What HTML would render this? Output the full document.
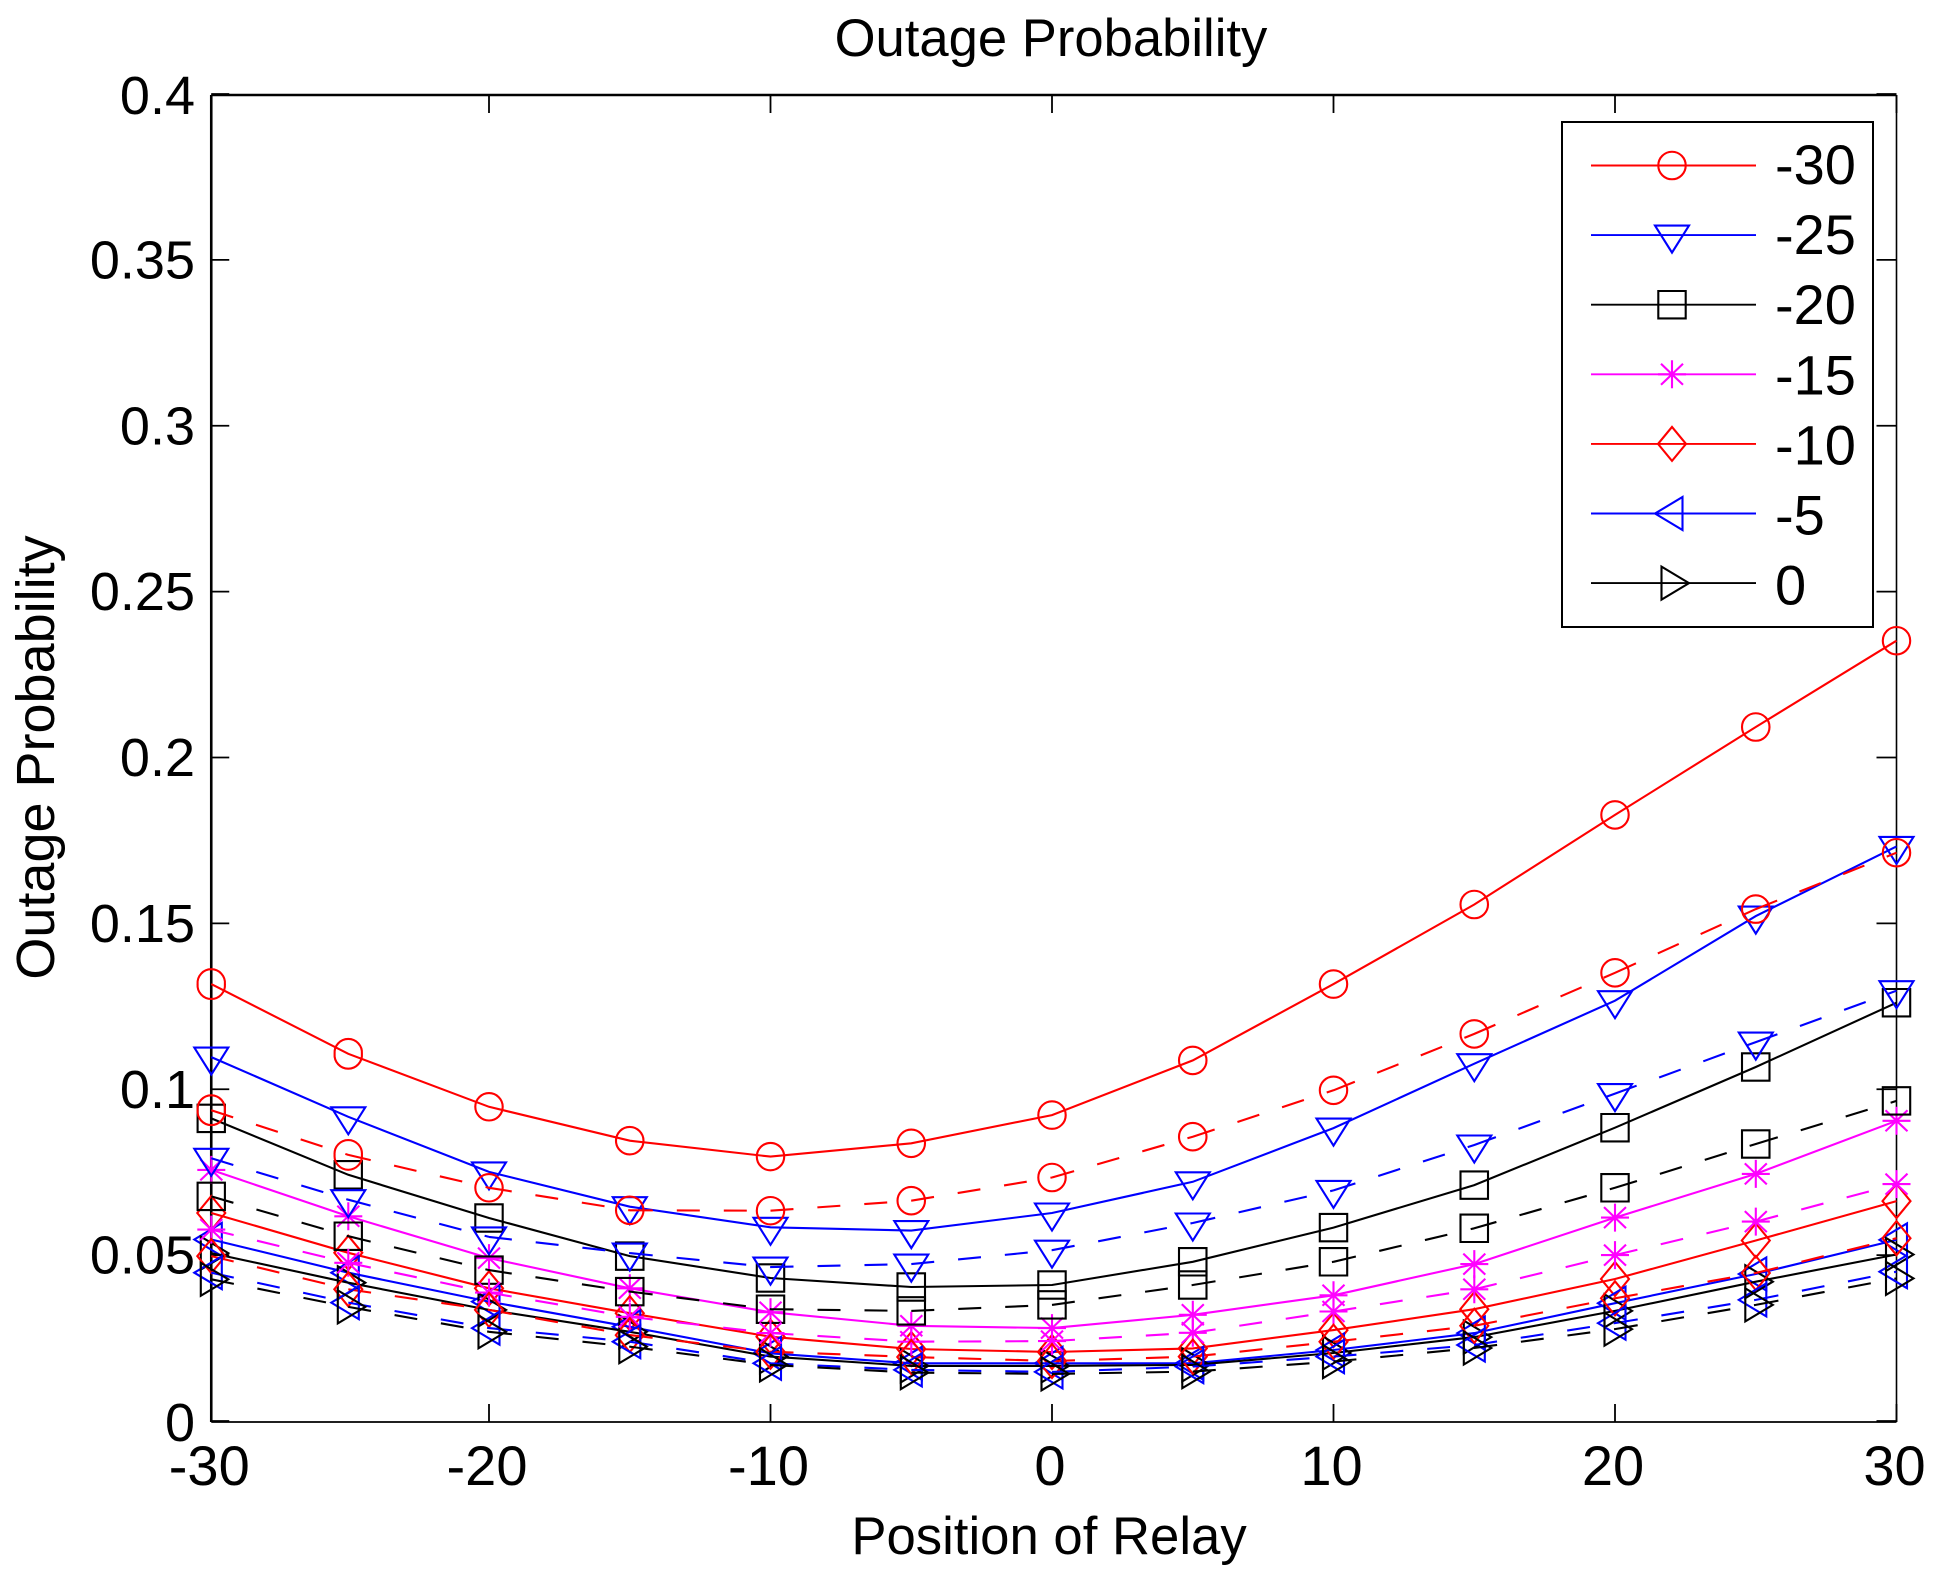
<!DOCTYPE html>
<html lang="en">
<head>
<meta charset="utf-8">
<title>Outage Probability</title>
<style>
html,body{margin:0;padding:0;background:#fff;}
svg{display:block;font-family:"Liberation Sans",Arial,sans-serif;fill:#000;}
</style>
</head>
<body>
<svg id="chart" xmlns="http://www.w3.org/2000/svg" width="1941" height="1574" viewBox="0 0 1941 1574">
<rect x="0" y="0" width="1941" height="1574" fill="#fff"/>
<text x="1051" y="56" font-size="52.6" text-anchor="middle">Outage Probability</text>
<text x="1049" y="1554" font-size="52.7" text-anchor="middle">Position of Relay</text>
<text transform="translate(54,757.5) rotate(-90)" font-size="54" text-anchor="middle">Outage Probability</text>
<g id="axes"></g>
<g id="plot"></g>
<g id="legend"></g>
</svg>
<script>
const positions = [-30,-25,-20,-15,-10,-5,0,5,10,15,20,25,30];
const xTicks = [-30,-20,-10,0,10,20,30];
const yTicks = [0,0.05,0.1,0.15,0.2,0.25,0.3,0.35,0.4];
const yTickLabels = ['0','0.05','0.1','0.15','0.2','0.25','0.3','0.35','0.4'];
const legendLabels = ['-30','-25','-20','-15','-10','-5','0'];

const solidMinus30 = [0.132,0.111,0.095,0.0848,0.080,0.084,0.0925,0.109,0.132,0.156,0.183,0.2095,0.2355];
const solidMinus25 = [0.110,0.092,0.0754,0.0649,0.0587,0.0577,0.063,0.0724,0.0886,0.108,0.127,0.1525,0.1735];
const solidMinus20 = [0.0915,0.0745,0.0615,0.050,0.0434,0.0407,0.0413,0.0483,0.0586,0.0714,0.0887,0.107,0.1264];
const solidMinus15 = [0.076,0.062,0.0494,0.0403,0.0331,0.029,0.0283,0.0323,0.0382,0.0476,0.0616,0.0748,0.0908];
const solidMinus10 = [0.063,0.051,0.0403,0.0328,0.0257,0.022,0.0211,0.0222,0.0277,0.034,0.0431,0.0547,0.0666];
const solidMinus5 = [0.055,0.045,0.0363,0.0287,0.0207,0.0177,0.0177,0.0177,0.0217,0.0268,0.0358,0.0446,0.0549];
const solidZero = [0.0509,0.042,0.0338,0.0272,0.0197,0.0169,0.0169,0.0172,0.0208,0.0256,0.0335,0.0423,0.0505];

const dashedMinus30 = [0.094,0.0805,0.0706,0.0638,0.0637,0.0667,0.0737,0.086,0.100,0.117,0.1354,0.1546,0.1716];
const dashedMinus25 = [0.0795,0.067,0.0558,0.0509,0.0467,0.0476,0.0518,0.060,0.0698,0.0835,0.099,0.1145,0.130];
const dashedMinus20 = [0.068,0.056,0.0458,0.0393,0.034,0.0335,0.0353,0.0413,0.0483,0.0584,0.0706,0.0838,0.0968];
const dashedMinus15 = [0.058,0.048,0.039,0.0317,0.0268,0.0242,0.0244,0.0269,0.0333,0.040,0.0503,0.0604,0.0717];
const dashedMinus10 = [0.050,0.040,0.0338,0.0262,0.0212,0.0196,0.0184,0.0197,0.0242,0.029,0.0373,0.0449,0.0554];
const dashedMinus5 = [0.045,0.036,0.0283,0.0242,0.0177,0.0157,0.0151,0.0167,0.0197,0.0232,0.0298,0.0368,0.0453];
const dashedZero = [0.043,0.0347,0.0272,0.0227,0.0172,0.0149,0.0145,0.0152,0.0182,0.0223,0.028,0.0353,0.0433];

const NS = 'http://www.w3.org/2000/svg';
const RED = '#ff0000', BLUE = '#0000ff', BLACK = '#000000', MAGENTA = '#ff00ff';
const seriesStyles = [
  {key:'minus-30', color:RED, marker:'circle'},
  {key:'minus-25', color:BLUE, marker:'down'},
  {key:'minus-20', color:BLACK, marker:'square'},
  {key:'minus-15', color:MAGENTA, marker:'star'},
  {key:'minus-10', color:RED, marker:'diamond'},
  {key:'minus-5', color:BLUE, marker:'left'},
  {key:'zero', color:BLACK, marker:'right'}
];
const solidSeries = [solidMinus30,solidMinus25,solidMinus20,solidMinus15,solidMinus10,solidMinus5,solidZero];
const dashedSeries = [dashedMinus30,dashedMinus25,dashedMinus20,dashedMinus15,dashedMinus10,dashedMinus5,dashedZero];

/* Axis functions. The leftmost interval is very slightly compressed in the source image. */
function xScale(v){
  return v < -25 ? 348.25 + (v + 25) * 27.4 : 1052 + 28.15 * v;
}
function yScale(v){
  return 1422 - v * 3317.5;
}

function make(tag, attrs, parent){
  const el = document.createElementNS(NS, tag);
  for (const k in attrs) el.setAttribute(k, attrs[k]);
  parent.appendChild(el);
  return el;
}

function markerPath(type, x, y){
  const p = (a,b) => (x+a).toFixed(1)+' '+(y+b).toFixed(1);
  switch (type) {
    case 'circle':
      return 'M'+p(-13.7,0)+'A13.7 13.7 0 1 0 '+p(13.7,0)+'A13.7 13.7 0 1 0 '+p(-13.7,0)+'Z';
    case 'down':
      return 'M'+p(-17,-9.5)+'L'+p(17,-9.5)+'L'+p(0,17.5)+'Z';
    case 'square':
      return 'M'+p(-13.7,-13.7)+'L'+p(13.7,-13.7)+'L'+p(13.7,13.7)+'L'+p(-13.7,13.7)+'Z';
    case 'star':
      return 'M'+p(0,-14)+'L'+p(0,14)+'M'+p(-14,0)+'L'+p(14,0)+'M'+p(-11,-10.5)+'L'+p(11,10.5)+'M'+p(-11,10.5)+'L'+p(11,-10.5);
    case 'diamond':
      return 'M'+p(0,-17)+'L'+p(14,0)+'L'+p(0,17)+'L'+p(-14,0)+'Z';
    case 'left':
      return 'M'+p(-17,0)+'L'+p(10.5,-16.5)+'L'+p(10.5,16.5)+'Z';
    default:
      return 'M'+p(17,0)+'L'+p(-10.5,-16.5)+'L'+p(-10.5,16.5)+'Z';
  }
}

/* Axes */
const axes = document.getElementById('axes');
const xL = xScale(positions[0]), xR = xScale(positions[positions.length-1]);
const yB = yScale(yTicks[0]), yT = yScale(yTicks[yTicks.length-1]);

const axisFrame = [
  {name:'left-axis-line', x1:xL, y1:yT, x2:xL, y2:yB, w:2.6},
  {name:'top-axis-line', x1:xL, y1:yT, x2:xR, y2:yT, w:2.6},
  {name:'right-axis-line', x1:xR, y1:yT, x2:xR, y2:yB, w:1.6},
  {name:'bottom-axis-line', x1:xL, y1:yB, x2:xR, y2:yB, w:1.8}
];
axisFrame.forEach(a => {
  const l = make('line', {x1:a.x1, y1:a.y1, x2:a.x2, y2:a.y2, stroke:'#000', 'stroke-width':a.w}, axes);
  
  
});

xTicks.forEach(v => {
  const x = xScale(v);
  const b = make('line', {x1:x, y1:yB, x2:x, y2:yB-18, stroke:'#000', 'stroke-width':1.8}, axes);
  
  
  const t = make('line', {x1:x, y1:yT, x2:x, y2:yT+18, stroke:'#000', 'stroke-width':1.8}, axes);
  
  
  const lab = make('text', {x:x-2, y:1485, 'font-size':56, 'text-anchor':'middle'}, axes);
  lab.textContent = String(v);
  
  
});

yTicks.forEach((v,i) => {
  const y = yScale(v) - 1;
  const l = make('line', {x1:xL, y1:y, x2:xL+18, y2:y, stroke:'#000', 'stroke-width':1.8}, axes);
  
  
  const r = make('line', {x1:xR, y1:y, x2:xR-20, y2:y, stroke:'#000', 'stroke-width':1.8}, axes);
  
  
  const lab = make('text', {x:195, y:y+(i === 0 ? 20 : i === yTicks.length-1 ? 20 : 18.5), 'font-size':54, 'text-anchor':'end'}, axes);
  lab.textContent = yTickLabels[i];
  
  
});

/* Series */
const plot = document.getElementById('plot');
const DASH_ON = 23, DASH_OFF = 24;

function drawSeries(values, style, dashed){
  const g = make('g', {}, plot);
  
  
  let d = '';
  values.forEach((v,i) => {
    const x = xScale(positions[i]).toFixed(1), y = yScale(v).toFixed(1);
    if (dashed) {
      if (i < values.length-1) {
        d += 'M'+x+' '+y+'L'+xScale(positions[i+1]).toFixed(1)+' '+yScale(values[i+1]).toFixed(1);
      }
    } else {
      d += (i===0?'M':'L')+x+' '+y;
    }
  });
  const attrs = {d:d, fill:'none', stroke:style.color, 'stroke-width':2.1};
  if (dashed) attrs['stroke-dasharray'] = DASH_ON+' '+DASH_OFF;
  const line = make('path', attrs, g);
  
  
  values.forEach((v,i) => {
    const m = make('path', {d:markerPath(style.marker, xScale(positions[i]), yScale(v)), fill:'none', stroke:style.color, 'stroke-width':2.1}, g);
    
    
  });
}
solidSeries.forEach((vals,i) => drawSeries(vals, seriesStyles[i], false));
dashedSeries.forEach((vals,i) => drawSeries(vals, seriesStyles[i], true));

/* Legend */
const legend = document.getElementById('legend');
const box = make('rect', {x:1562, y:122, width:311, height:505, fill:'#fff', stroke:'#000', 'stroke-width':2}, legend);


legendLabels.forEach((label,i) => {
  const style = seriesStyles[i];
  const y = 165.5 + 69.6*i;
  const g = make('g', {}, legend);
  
  
  const l = make('line', {x1:1591, y1:y, x2:1756, y2:y, stroke:style.color, 'stroke-width':1.9}, g);
  
  
  const m = make('path', {d:markerPath(style.marker, 1672, y), fill:'none', stroke:style.color, 'stroke-width':2.1}, g);
  
  
  const t = make('text', {x:1775, y:184+70.1*i, 'font-size':56}, g);
  t.textContent = label;
  
  
});
</script>
</body>
</html>
